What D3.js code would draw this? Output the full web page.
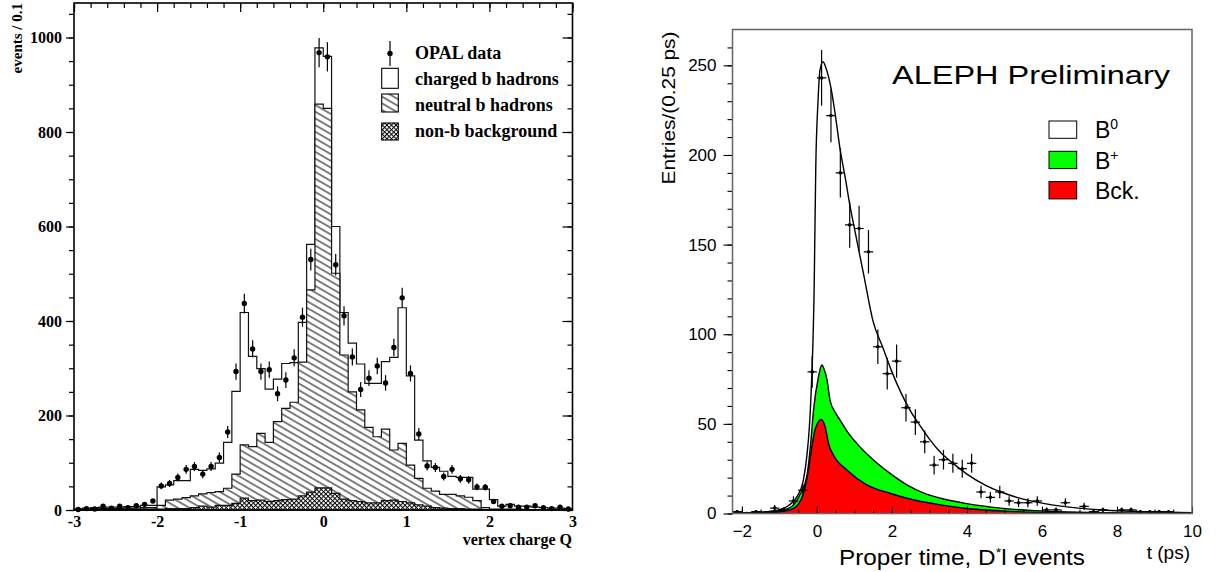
<!DOCTYPE html>
<html><head><meta charset="utf-8">
<title>OPAL vertex charge / ALEPH proper time</title>
<script src="https://d3js.org/d3.v7.min.js"></script>
<style>
  body { margin: 0; background: #fff; }
  svg { display: block; }
  .opal text { font-family: "Liberation Serif", "Times New Roman", serif; font-weight: bold; font-size: 16px; fill: #000; }
  .aleph text { font-family: "Liberation Sans", Arial, sans-serif; font-size: 16px; fill: #000; }
  .hist { stroke: #111; stroke-width: 1.2; }
  .fit { fill: none; stroke: #000; stroke-width: 1.4; }
</style>
</head>
<body>
<svg id="chart" width="1226" height="572"></svg>
<script>
// ---------------- data: left panel (OPAL), 60 bins of 0.1 in vertex charge Q
let qLow = -3, qWidth = 0.1;
let qTotal   = [2,4,5,6,6,6,7,7,10,10, 49,53,62,62,86,84,87,99,143,251, 418,325,299,256,277,310,312,397,562,978,
                960,600,418,353,309,268,268,314,323,428, 284,148,104,90,82,71,69,69,44,44, 22,8,12,8,8,6,5,4,4,3];
let qNeutral = [2,2,3,3,3,3,4,4,5,5, 10,21,23,26,30,34,37,39,46,76, 138,134,162,143,187,215,228,313,466,859,
                850,501,328,250,212,175,155,171,127,141, 95,67,46,40,33,33,30,27,20,5, 2,2,2,2,1,1,1,1,1,0];
let qBkg     = [1,1,1,1,1,1,1,1,2,2, 2,3,3,3,5,8,6,10,10,14, 25,20,21,18,20,22,23,30,38,47,
                47,35,23,20,18,15,15,20,21,18, 15,11,8,5,4,3,3,2,2,1, 1,1,1,1,1,1,0,0,0,0];
let qData    = [1,3,2,8,4,8,5,9,12,19, 51,56,69,86,92,76,92,111,165,293, 437,341,293,297,246,275,322,408,530,968,
                959,519,411,324,255,279,305,269,344,449, 289,161,93,90,71,86,66,64,49,48, 18,8,9,6,6,9,5,3,6,2];
let qTickLabels = [-3,-2,-1,0,1,2,3];
let evTickLabels = [0,200,400,600,800,1000];
let opalLegend = ["OPAL data","charged b hadrons","neutral b hadrons","non-b background"];

// ---------------- data: right panel (ALEPH), 49 bins of 0.25 ps
let tLow = -2.25, tWidth = 0.25;
let tData = [1,0,1,0,3,2,7,13,79,243,222,190,161,159,146,93,78,85,59,51,40,27,30,28,25,28,12,9,12,7,6,6,7,2,2,6,0,4,1,2,0,2,2,1,1,1,1,0,0];
// fitted curves
let fitT     = [-2.25,-1.5,-1.0,-0.75,-0.53,-0.36,-0.27,-0.17,-0.07,-0.03,0.03,0.08,0.16,0.25,0.37,0.5,0.62,0.75,0.87,1.0,
                1.25,1.5,1.75,2.0,2.25,2.5,2.75,3.0,3.3,3.6,4.0,4.5,5.0,5.5,6.0,6.5,7.0,7.5,8.0,9.0,10.0];
let fitTotal = [0.2,0.8,2.2,4.5,9.4,18.7,31.7,60,130,193,230,247,252,248,238,221,203,188,173,159,
                133,107,93,79,67,57,49,41.5,34,28.5,22,15.7,11.3,8,5.8,4.1,3,2.1,1.5,0.8,0.4];
let greenT   = [-2.25,-1.5,-1.0,-0.7,-0.44,-0.27,-0.17,-0.09,0.04,0.13,0.2,0.27,0.35,0.5,0.62,0.8,1.07,1.5,1.95,2.4,
                2.84,3.3,4.0,4.9,5.8,6.7,7.5,8.5,10];
let greenTop = [0.1,0.5,1.5,3.5,11,20.5,38,57.7,76,82.8,80,74.5,63.3,56,52,46,39,30,22.4,16,
                11.5,8.5,5.5,3,1.6,0.8,0.4,0.2,0.05];
let redT     = [-2.25,-1.5,-1.0,-0.71,-0.5,-0.36,-0.27,-0.17,-0.09,0.04,0.11,0.22,0.31,0.44,0.8,1.33,1.95,2.4,3.3,4.0,
                5.0,6.0,7.0,8.0,10];
let redTop   = [0.05,0.3,1,2,5,11,19,32,42.8,51.2,52.5,48.4,39,32.6,24.3,16,11.3,8.5,4.8,2.8,
                1.3,0.6,0.3,0.1,0];
let tTickLabels = [-2,0,2,4,6,8,10];
let entTickLabels = [0,50,100,150,200,250];
let alephLegend = [{name:"B", sup:"0", fill:"#ffffff"}, {name:"B", sup:"+", fill:"#00ff00"}, {name:"Bck.", sup:"", fill:"#ff0000"}];

let svg = d3.select("#chart");
let defs = svg.append("defs");

// hatch for neutral b, cross-hatch for background
defs.append("pattern").attr("id","hatch").attr("patternUnits","userSpaceOnUse")
  .attr("width",10).attr("height",5.8).attr("patternTransform","rotate(30)")
  .append("line").attr("x1",0).attr("x2",10).attr("y1",2.9).attr("y2",2.9)
  .attr("stroke","#000").attr("stroke-width",1);
let cross = defs.append("pattern").attr("id","cross").attr("patternUnits","userSpaceOnUse")
  .attr("width",3.2).attr("height",3.2).attr("patternTransform","rotate(45)");
cross.append("path").attr("d","M0,0.5H3.2M0.5,0V3.2").attr("stroke","#000").attr("stroke-width",0.95);

function steps(vals, low, w) {
  let pts = vals.map((v,i) => [low + i*w, v]);
  pts.push([low + vals.length*w, vals[vals.length-1]]);
  return pts;
}
let noDomain = g => g.select(".domain").remove();

// ======================= LEFT PANEL =======================
let opal = svg.append("g").attr("class","opal");
let xL = d3.scaleLinear().domain([-3,3]).range([74,572.5]);
let yL = d3.scaleLinear().domain([0,1073]).range([510,3]);

let histArea = d3.area().x(d => xL(d[0])).y0(yL(0)).y1(d => yL(d[1])).curve(d3.curveStepAfter);

opal.append("path").datum(steps(qTotal,qLow,qWidth)).attr("class","hist").attr("fill","#fff").attr("d",histArea);
opal.append("path").datum(steps(qNeutral,qLow,qWidth)).attr("fill","#fff").attr("d",histArea);
opal.append("path").datum(steps(qNeutral,qLow,qWidth)).attr("class","hist").attr("fill","url(#hatch)").attr("d",histArea);
opal.append("path").datum(steps(qBkg,qLow,qWidth)).attr("fill","#fff").attr("d",histArea);
opal.append("path").datum(steps(qBkg,qLow,qWidth)).attr("class","hist").attr("fill","url(#cross)").attr("d",histArea);

// data points with sqrt(N) error bars
let qc = i => qLow + (i+0.5)*qWidth;
let opalPts = opal.append("g").selectAll("g").data(qData).join("g");
opalPts.append("line")
  .attr("x1",(d,i) => xL(qc(i))).attr("x2",(d,i) => xL(qc(i)))
  .attr("y1",d => yL(d + Math.sqrt(d))).attr("y2",d => yL(Math.max(0,d - Math.sqrt(d))))
  .attr("stroke","#000").attr("stroke-width",1.2);
opalPts.append("circle")
  .attr("cx",(d,i) => xL(qc(i))).attr("cy",d => yL(d)).attr("r",2.7).attr("fill","#000");

// axes: labelled left/bottom, mirrored ticks on right/top
opal.append("g").attr("transform","translate(74,0)")
  .call(d3.axisLeft(yL).tickValues(evTickLabels).tickSize(8).tickPadding(4).tickFormat(d => String(d))).call(noDomain);
opal.append("g").attr("transform","translate(74,0)")
  .call(d3.axisLeft(yL).tickValues(d3.range(0,1073,50)).tickSize(5).tickFormat("")).call(noDomain);
opal.append("g").attr("transform","translate(572.5,0)")
  .call(d3.axisRight(yL).tickValues(evTickLabels).tickSize(-10).tickFormat("")).call(noDomain);
opal.append("g").attr("transform","translate(572.5,0)")
  .call(d3.axisRight(yL).tickValues(d3.range(0,1073,50)).tickSize(-5).tickFormat("")).call(noDomain);
opal.append("g").attr("transform","translate(0,3)")
  .call(d3.axisTop(xL).tickValues(qTickLabels).tickSize(-9).tickFormat("")).call(noDomain);
opal.append("g").attr("transform","translate(0,3)")
  .call(d3.axisTop(xL).tickValues(d3.range(-3,3.01,0.2)).tickSize(-5).tickFormat("")).call(noDomain);
opal.append("g").attr("transform","translate(0,510)")
  .call(d3.axisBottom(xL).tickValues(qTickLabels).tickSize(0).tickPadding(6).tickFormat(d => String(d))).call(noDomain);
opal.selectAll(".tick line").attr("stroke-width",1.2);

opal.append("rect").attr("x",74).attr("y",3).attr("width",498.5).attr("height",507)
  .attr("fill","none").attr("stroke","#000").attr("stroke-width",1.6);

opal.append("text").attr("transform","translate(22,3) rotate(-90)").attr("text-anchor","end")
  .style("font-size","15px").text("events / 0.1");
opal.append("text").attr("x",572).attr("y",545).attr("text-anchor","end").text("vertex charge Q");

// legend
let lg = opal.append("g");
lg.append("line").attr("x1",390).attr("x2",390).attr("y1",41).attr("y2",66).attr("stroke","#000").attr("stroke-width",1.2);
lg.append("circle").attr("cx",390).attr("cy",53.5).attr("r",2.7);
lg.append("rect").attr("x",381.7).attr("y",68.3).attr("width",16.6).attr("height",20).attr("fill","#fff").attr("stroke","#000").attr("stroke-width",1.1);
lg.append("rect").attr("x",381.7).attr("y",94).attr("width",16.6).attr("height",18).attr("fill","url(#hatch)").attr("stroke","#000").attr("stroke-width",1.1);
lg.append("rect").attr("x",381.7).attr("y",123).attr("width",16.6).attr("height",17).attr("fill","url(#cross)").attr("stroke","#000").attr("stroke-width",1.1);
lg.selectAll("text.lab").data(opalLegend).join("text").attr("class","lab")
  .attr("x",415).attr("y",(d,i) => 59 + i*26).style("font-size","18px").text(d => d);

// ======================= RIGHT PANEL =======================
let aleph = svg.append("g").attr("class","aleph");
let xR = d3.scaleLinear().domain([-2.25,10]).range([732.5,1192]);
let yR = d3.scaleLinear().domain([0,270]).range([513.5,29.5]);

defs.append("clipPath").attr("id","rclip").append("rect")
  .attr("x",732.5).attr("y",29.5).attr("width",459.5).attr("height",484);

let plot = aleph.append("g").attr("clip-path","url(#rclip)");
let curveArea = d3.area().x(d => xR(d[0])).y0(yR(0)).y1(d => yR(d[1])).curve(d3.curveMonotoneX);
let curveLine = d3.line().x(d => xR(d[0])).y(d => yR(d[1])).curve(d3.curveMonotoneX);

let greenPts = greenT.map((t,i) => [t, greenTop[i]]);
let redPts = redT.map((t,i) => [t, redTop[i]]);
let totalPts = fitT.map((t,i) => [t, fitTotal[i]]);

plot.append("path").datum(greenPts).attr("fill","#00ff00").attr("d",curveArea);
plot.append("path").datum(redPts).attr("fill","#ff0000").attr("d",curveArea);
plot.append("path").datum(greenPts).attr("class","fit").attr("stroke-width",1).attr("d",curveLine);
plot.append("path").datum(redPts).attr("class","fit").attr("stroke-width",1).attr("d",curveLine);
plot.append("path").datum(totalPts).attr("class","fit").attr("d",curveLine);

// data: horizontal bin-width bars, vertical sqrt(N) bars
let tc = i => tLow + (i+0.5)*tWidth;
let alephPts = plot.append("g").selectAll("g").data(tData).join("g");
alephPts.append("line")
  .attr("x1",(d,i) => xR(tc(i) - tWidth/2)).attr("x2",(d,i) => xR(tc(i) + tWidth/2))
  .attr("y1",d => yR(d)).attr("y2",d => yR(d)).attr("stroke","#000").attr("stroke-width",1.2);
alephPts.each(function(d,i) {
  if (d <= 0) return;
  d3.select(this).append("line")
    .attr("x1",xR(tc(i))).attr("x2",xR(tc(i)))
    .attr("y1",yR(d + Math.sqrt(d))).attr("y2",yR(Math.max(0,d - Math.sqrt(d))))
    .attr("stroke","#000").attr("stroke-width",1.2);
});
alephPts.append("circle").attr("cx",(d,i) => xR(tc(i))).attr("cy",d => yR(d)).attr("r",1.8).attr("fill","#000");

// axes
aleph.append("g").attr("transform","translate(732.5,0)")
  .call(d3.axisLeft(yR).tickValues(entTickLabels).tickSize(9).tickPadding(7)).call(noDomain);
aleph.append("g").attr("transform","translate(732.5,0)")
  .call(d3.axisLeft(yR).tickValues(d3.range(0,270,10)).tickSize(5).tickFormat("")).call(noDomain);
aleph.append("g").attr("transform","translate(0,513.5)")
  .call(d3.axisBottom(xR).tickValues(tTickLabels).tickSize(-7).tickPadding(11.5)).call(noDomain);
aleph.append("g").attr("transform","translate(0,513.5)")
  .call(d3.axisBottom(xR).tickValues(d3.range(-2,10.01,0.5)).tickSize(-4).tickFormat("")).call(noDomain);
aleph.selectAll(".tick line").attr("stroke-width",1.1);
aleph.selectAll(".tick text").style("font-size","17px");

aleph.append("rect").attr("x",732.5).attr("y",29.5).attr("width",459.5).attr("height",484)
  .attr("fill","none").attr("stroke","#666").attr("stroke-width",1.5);

// titles
aleph.append("text").attr("x",892).attr("y",83.5).attr("textLength",278).attr("lengthAdjust","spacingAndGlyphs")
  .style("font-size","26px").text("ALEPH Preliminary");
aleph.append("text").attr("transform","translate(675,108) rotate(-90)").attr("text-anchor","middle")
  .attr("textLength",153).attr("lengthAdjust","spacingAndGlyphs")
  .style("font-size","19px").text("Entries/(0.25 ps)");
let xt = aleph.append("text").attr("x",839).attr("y",565).attr("textLength",246).attr("lengthAdjust","spacingAndGlyphs")
  .style("font-size","22px");
xt.append("tspan").text("Proper time, D");
xt.append("tspan").attr("dy",-8).style("font-size","13px").text("*");
xt.append("tspan").attr("dy",8).text("l events");
aleph.append("text").attr("x",1190).attr("y",559).attr("text-anchor","end").style("font-size","19px").text("t (ps)");

// legend
let rl = aleph.append("g").selectAll("g").data(alephLegend).join("g")
  .attr("transform",(d,i) => "translate(1049," + (121 + i*30.3) + ")");
rl.append("rect").attr("width",27.7).attr("height",17.3).attr("fill",d => d.fill).attr("stroke","#000").attr("stroke-width",1);
let rlt = rl.append("text").attr("x",46).attr("y",17.3).style("font-size","23px");
rlt.append("tspan").text(d => d.name);
rlt.append("tspan").attr("dy",-9).style("font-size","14px").text(d => d.sup);
</script>
</body>
</html>
